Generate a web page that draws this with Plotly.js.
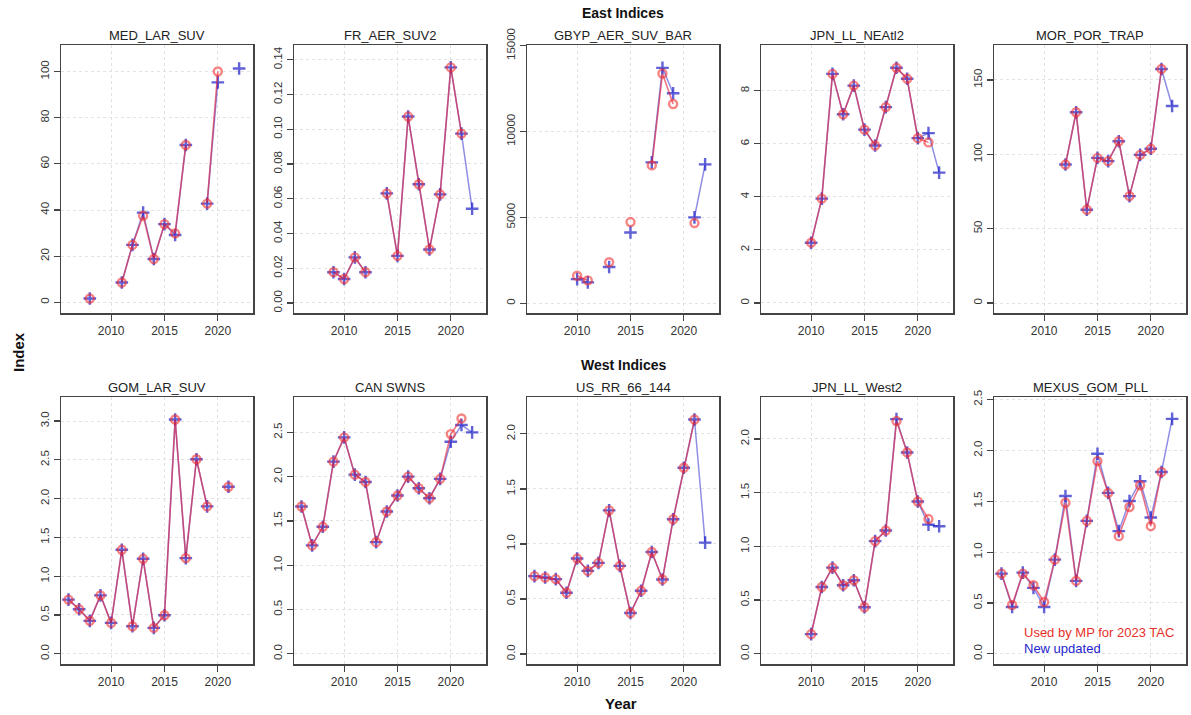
<!DOCTYPE html>
<html>
<head>
<meta charset="utf-8">
<script src="https://cdn.plot.ly/plotly-3.0.1.min.js"></script>
<style>
html,body{margin:0;padding:0;background:#fff;}
#chart{width:1191px;height:715px;}
</style>
</head>
<body>
<div id="chart"></div>
<script>
// ---- Data (years 2006..2022); null = missing ----
const years = [2006,2007,2008,2009,2010,2011,2012,2013,2014,2015,2016,2017,2018,2019,2020,2021,2022];

const panelTitles = ["MED_LAR_SUV","FR_AER_SUV2","GBYP_AER_SUV_BAR","JPN_LL_NEAtl2","MOR_POR_TRAP",
                     "GOM_LAR_SUV","CAN SWNS","US_RR_66_144","JPN_LL_West2","MEXUS_GOM_PLL"];

// "Used by MP for 2023 TAC" (red) and "New updated" (blue)
const medLarSuvOld = [null,null,1.7,null,null,8.6,24.9,37.5,18.8,33.9,29.9,68.2,null,42.8,100.0,null,null];
const medLarSuvNew = [null,null,1.7,null,null,8.6,24.9,38.9,18.8,33.9,29.2,68.2,null,42.8,95.3,null,101.3];

const frAerSuv2Old = [null,null,null,0.0177,0.0138,0.0262,0.0177,null,0.0631,0.0271,0.1073,0.0683,0.0308,0.0625,0.1356,0.0975,null];
const frAerSuv2New = [null,null,null,0.0177,0.0138,0.0262,0.0177,null,0.0631,0.0271,0.1073,0.0683,0.0308,0.0625,0.1356,0.0975,0.0542];

const gbypOld = [null,null,null,null,1602,1328,null,2383,null,4727,null,8027,13378,11601,null,4668,null];
const gbypNew = [null,null,null,null,1406,1211,null,2109,null,4121,null,8203,13710,12226,null,5000,8086];

const jpnNEAtlOld = [null,null,null,null,2.27,3.93,8.63,7.11,8.19,6.53,5.93,7.38,8.86,8.45,6.21,6.05,null];
const jpnNEAtlNew = [null,null,null,null,2.27,3.93,8.63,7.11,8.19,6.53,5.93,7.38,8.86,8.45,6.21,6.40,4.91];

const morPorTrapOld = [null,null,null,null,null,null,93.1,128.3,62.7,97.6,95.4,108.8,71.9,99.6,103.7,157.4,null];
const morPorTrapNew = [null,null,null,null,null,null,93.1,128.3,62.7,97.6,95.4,108.8,71.9,99.6,103.7,157.4,132.5];

const gomLarSuvOld = [0.698,0.573,0.424,0.753,0.398,1.340,0.355,1.224,0.334,0.496,3.02,1.233,2.508,1.900,null,2.153,null];
const gomLarSuvNew = [0.698,0.573,0.424,0.753,0.398,1.340,0.355,1.224,0.334,0.496,3.02,1.233,2.508,1.900,null,2.153,null];

const canSwnsOld = [1.663,1.224,1.434,2.170,2.444,2.023,1.941,1.261,1.607,1.787,2.001,1.869,1.757,1.975,2.481,2.658,null];
const canSwnsNew = [1.663,1.224,1.434,2.170,2.444,2.023,1.941,1.261,1.607,1.787,2.001,1.869,1.757,1.975,2.395,2.583,2.50];

const usRrOld = [0.707,0.695,0.680,0.556,0.867,0.755,0.828,1.305,0.801,0.372,0.574,0.927,0.677,1.224,1.692,2.130,null];
const usRrNew = [0.707,0.695,0.680,0.556,0.867,0.755,0.828,1.305,0.801,0.372,0.574,0.927,0.677,1.224,1.692,2.130,1.012];

const jpnWestOld = [null,null,null,null,0.183,0.622,0.802,0.638,0.684,0.433,1.049,1.147,2.166,1.874,1.417,1.254,null];
const jpnWestNew = [null,null,null,null,0.183,0.622,0.802,0.638,0.684,0.433,1.049,1.147,2.184,1.874,1.417,1.202,1.187];

const mexusOld = [0.789,0.480,0.789,0.674,0.510,0.926,1.485,0.717,1.307,1.895,1.582,1.157,1.444,1.657,1.255,1.788,null];
const mexusNew = [0.789,0.460,0.798,0.648,0.461,0.926,1.551,0.717,1.307,1.967,1.582,1.206,1.503,1.696,1.340,1.788,2.310];

const oldSeries = [medLarSuvOld,frAerSuv2Old,gbypOld,jpnNEAtlOld,morPorTrapOld,gomLarSuvOld,canSwnsOld,usRrOld,jpnWestOld,mexusOld];
const newSeries = [medLarSuvNew,frAerSuv2New,gbypNew,jpnNEAtlNew,morPorTrapNew,gomLarSuvNew,canSwnsNew,usRrNew,jpnWestNew,mexusNew];

const yTickVals = [
  [0,20,40,60,80,100],
  [0,0.02,0.04,0.06,0.08,0.10,0.12,0.14],
  [0,5000,10000,15000],
  [0,2,4,6,8],
  [0,50,100,150],
  [0,0.5,1.0,1.5,2.0,2.5,3.0],
  [0,0.5,1.0,1.5,2.0,2.5],
  [0,0.5,1.0,1.5,2.0],
  [0,0.5,1.0,1.5,2.0],
  [0,0.5,1.0,1.5,2.0,2.5]
];
const yTickFormats = ["d",".2f","d","d","d",".1f",".1f",".1f",".1f",".1f"];
const xTickVals = [2010,2015,2020];

// ---- Layout geometry (pixels) ----
const W = 1191, H = 715;
const yRanges = [[-4.6,111.5],[-0.0058,0.1485],[-570,15040],[-0.38,9.72],[-6.7,173.5],
                 [-0.132,3.31],[-0.115,2.9],[-0.091,2.335],[-0.095,2.39],[-0.10,2.525]];
const colPx = [[61,253],[294,486],[527,719],[761,953],[994,1186]];
const rowPx = [[45,313],[397,664]];
const xRange = [2005.3,2023.3];

const FONT = "Liberation Sans, Arial, sans-serif";
const traces = [];
const layout = {
  width: W, height: H,
  margin: {l:0,r:0,t:0,b:0},
  paper_bgcolor: "#ffffff", plot_bgcolor: "#ffffff",
  showlegend: false,
  font: {family: FONT, color: "#222"},
  annotations: []
};

for (let i = 0; i < 10; i++) {
  const r = Math.floor(i/5), c = i % 5;
  const n = i === 0 ? "" : String(i+1);
  const xa = "x" + n, ya = "y" + n;
  const fmt = yTickFormats[i];
  layout["xaxis" + n] = {
    domain: [colPx[c][0]/W, colPx[c][1]/W],
    anchor: ya, range: xRange,
    tickvals: xTickVals, ticks: "outside", ticklen: 6, tickwidth: 1.2, tickcolor: "#444",
    showline: true, mirror: true, linecolor: "#444", linewidth: 1.5,
    showgrid: true, gridcolor: "#e2e2e2", griddash: "dot", gridwidth: 1,
    zeroline: false, fixedrange: true,
    tickfont: {family: FONT, size: 12, color: "#333"}
  };
  layout["yaxis" + n] = {
    domain: [1 - rowPx[r][1]/H, 1 - rowPx[r][0]/H],
    anchor: xa, range: yRanges[i],
    tickvals: yTickVals[i],
    ticktext: yTickVals[i].map(v => fmt === "d" ? String(v) : v.toFixed(fmt === ".2f" ? 2 : 1)),
    tickangle: -90,
    ticks: "outside", ticklen: 6, tickwidth: 1.2, tickcolor: "#444",
    showline: true, mirror: true, linecolor: "#444", linewidth: 1.5,
    showgrid: true, gridcolor: "#e2e2e2", griddash: "dot", gridwidth: 1,
    zeroline: false, fixedrange: true,
    tickfont: {family: FONT, size: 11.5, color: "#333"}
  };
  // blue "New updated"
  traces.push({
    x: years, y: newSeries[i], xaxis: xa, yaxis: ya,
    type: "scatter", mode: "lines+markers", connectgaps: false, hoverinfo: "skip",
    line: {color: "rgba(50,50,210,0.55)", width: 1.5},
    marker: {symbol: "cross-thin-open", size: 9, color: "rgba(30,30,200,0.7)",
             line: {width: 2.4, color: "rgba(30,30,200,0.7)"}}
  });
  // red "Used by MP for 2023 TAC"
  traces.push({
    x: years, y: oldSeries[i], xaxis: xa, yaxis: ya,
    type: "scatter", mode: "lines+markers", connectgaps: false, hoverinfo: "skip",
    line: {color: "rgba(225,30,60,0.62)", width: 1.6},
    marker: {symbol: "circle-open", size: 8, color: "rgba(240,50,50,0.6)",
             line: {width: 2.4, color: "rgba(240,50,50,0.6)"}}
  });
  // panel title
  layout.annotations.push({
    text: panelTitles[i], xref: "paper", yref: "paper",
    x: (colPx[c][0] + colPx[c][1]) / 2 / W, y: 1 - (rowPx[r][0] - 10) / H,
    xanchor: "center", yanchor: "middle", showarrow: false,
    font: {family: FONT, size: 13, color: "#222"}
  });
}

const ann = (text, px, py, opts) => Object.assign({
  text, xref: "paper", yref: "paper", x: px / W, y: 1 - py / H,
  xanchor: "center", yanchor: "middle", showarrow: false
}, opts);

layout.annotations.push(ann("<b>East Indices</b>", 623, 13, {font: {family: FONT, size: 14, color: "#111"}}));
layout.annotations.push(ann("<b>West Indices</b>", 624, 365, {font: {family: FONT, size: 14, color: "#111"}}));
layout.annotations.push(ann("<b>Index</b>", 18, 352, {textangle: -90, font: {family: FONT, size: 15, color: "#111"}}));
layout.annotations.push(ann("<b>Year</b>", 621, 703, {font: {family: FONT, size: 15, color: "#111"}}));
layout.annotations.push(ann("Used by MP for 2023 TAC", 1022, 632, {xanchor: "left", font: {family: FONT, size: 13, color: "#e8302a"}}));
layout.annotations.push(ann("New updated", 1022, 648, {xanchor: "left", font: {family: FONT, size: 13, color: "#2424cc"}}));

Plotly.newPlot("chart", traces, layout, {staticPlot: true, displayModeBar: false});
</script>
</body>
</html>
